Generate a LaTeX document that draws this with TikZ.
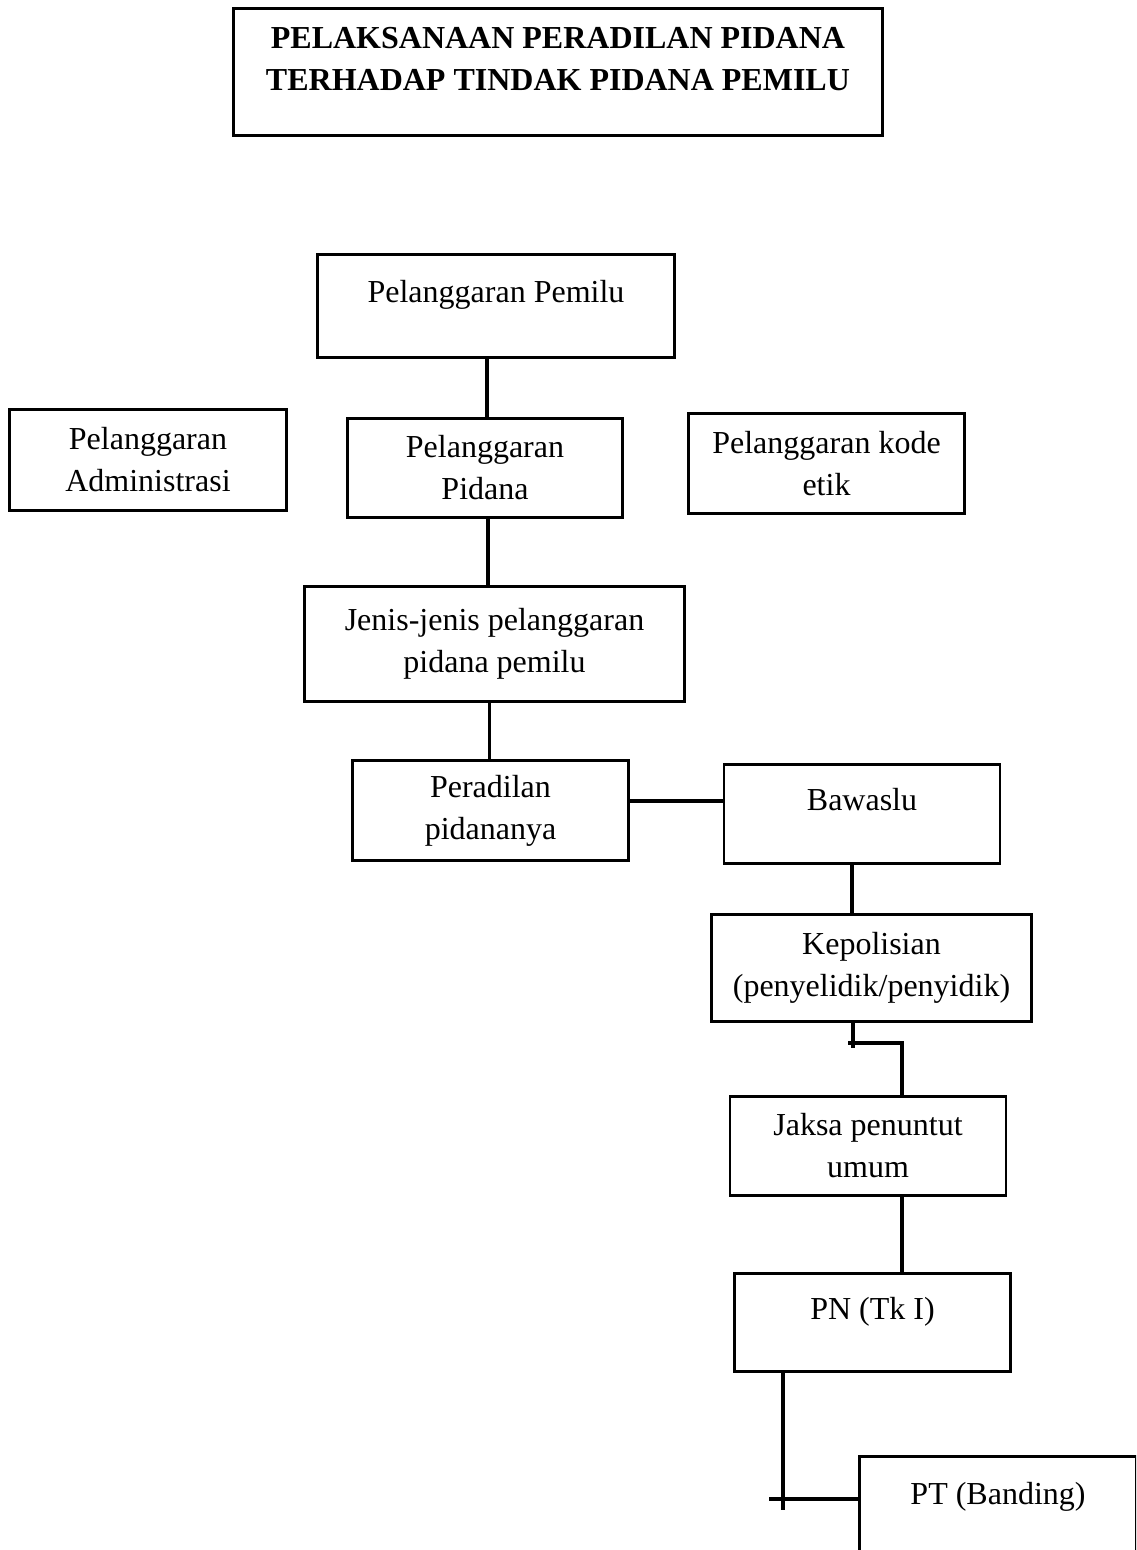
\documentclass[tikz,border=0pt]{standalone}
\usepackage{fontspec}
\setmainfont{Liberation Serif}
\begin{document}
\begin{tikzpicture}[x=1pt,y=-1pt,font=\fontsize{32}{42}\selectfont,
		kotak/.style={draw, line width=2.8pt, align=center, inner sep=0pt, outer sep=0pt, minimum width=276pt, minimum height=100pt},
		satu/.style={text height=22pt, text depth=29pt},
		garis/.style={line width=3.6pt}]
		\useasboundingbox (0,0) rectangle (1136,1550);
		\clip (0,0) rectangle (1136,1550);

		\node[kotak, minimum width=649pt, minimum height=127pt, font=\fontsize{32}{42}\selectfont\bfseries, text depth=27pt] (judul) at (558,72) {PELAKSANAAN PERADILAN PIDANA\\TERHADAP TINDAK PIDANA PEMILU};

		\node[kotak, satu, minimum width=357pt, minimum height=103pt] (pemilu) at (496,306) {Pelanggaran Pemilu};
		\node[kotak, minimum width=277pt, minimum height=101pt] (admin) at (148,460) {Pelanggaran\\Administrasi};
		\node[kotak, minimum width=275pt, minimum height=99pt] (pidana) at (485,468) {Pelanggaran\\Pidana};
		\node[kotak, minimum width=276pt] (kode) at (826.5,463.5) {Pelanggaran kode\\etik};
		\node[kotak, minimum width=380pt, minimum height=115pt] (jenis) at (494.5,644) {Jenis-jenis pelanggaran\\pidana pemilu};
		\node[kotak] (peradilan) at (490.5,810.5) {Peradilan\\pidananya};
		\node[kotak, satu, minimum height=99pt] (bawaslu) at (862,814) {Bawaslu};
		\node[kotak, minimum width=320pt, minimum height=107pt] (kep) at (871.5,968) {Kepolisian\\(penyelidik/penyidik)};
		\node[kotak, minimum height=99pt] (jaksa) at (868,1146) {Jaksa penuntut\\umum};
		\node[kotak, satu, minimum height=98pt] (pn) at (872.5,1322.5) {PN (Tk I)};
		\node[kotak, satu, minimum width=277pt, minimum height=102pt] (pt) at (998,1507.5) {PT (Banding)};

		\draw[garis] ([xshift=-9pt]pemilu.south) -- ([xshift=-9pt]pemilu.south |- pidana.north);
		\draw[garis] ([xshift=3pt]pidana.south) -- ([xshift=3pt]pidana.south |- jenis.north);
		\draw[garis] ([xshift=-5pt]jenis.south) -- ([xshift=-5pt]jenis.south |- peradilan.north);
		\draw[garis] ([yshift=9.5pt]peradilan.east) -- ([yshift=9.5pt]peradilan.east -| bawaslu.west);
		\draw[garis] ([xshift=-10pt]bawaslu.south) -- ([xshift=-10pt]bawaslu.south |- kep.north);

		\coordinate (tik1) at (853,1048);
		\coordinate (tik2) at (848,1043);
		\coordinate (belok) at (902,1043);
		\draw[garis] (kep.south -| tik1) -- (tik1);
		\draw[garis] (tik2) -- (belok) -- (belok |- jaksa.north);
		\draw[garis] ([xshift=34pt]jaksa.south) -- ([xshift=34pt]jaksa.south |- pn.north);

		\coordinate (tik3) at (783,1510);
		\coordinate (tik4) at (769,1499);
		\draw[garis] (pn.south -| tik3) -- (tik3);
		\draw[garis] (tik4) -- (tik4 -| pt.west);
	\end{tikzpicture}
\end{document}
